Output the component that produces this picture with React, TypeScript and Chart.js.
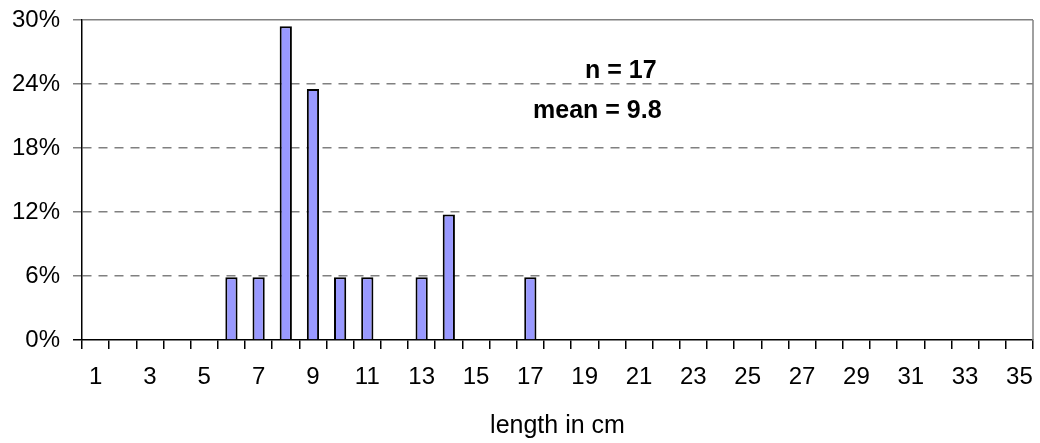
import React, { useEffect, useRef } from "react";
import { Chart, registerables } from "chart.js";

Chart.register(...registerables);

const lengthCategories: string[] = [
  "1", "2", "3", "4", "5", "6", "7", "8", "9", "10", "11", "12", "13", "14", "15", "16", "17", "18",
  "19", "20", "21", "22", "23", "24", "25", "26", "27", "28", "29", "30", "31", "32", "33", "34", "35",
];

// percent of fish per length class (n = 17)
const percentValues: number[] = [
  0, 0, 0, 0, 0, 5.88, 5.88, 29.41, 23.53, 5.88, 5.88, 0, 5.88, 11.76, 0, 0, 5.88, 0,
  0, 0, 0, 0, 0, 0, 0, 0, 0, 0, 0, 0, 0, 0, 0, 0, 0,
];

const yTickValues: number[] = [0, 6, 12, 18, 24, 30];
const annotationLines: string[] = ["n = 17", "mean = 9.8"];
const xAxisTitle = "length in cm";

const FONT = "'Liberation Sans', Arial, sans-serif";

export default function App() {
  const canvasRef = useRef<HTMLCanvasElement | null>(null);

  useEffect(() => {
    if (!canvasRef.current) return;

    const frame = {
      id: "frameAndNotes",
      afterDraw(chart: any) {
        const { ctx, chartArea } = chart;
        ctx.save();
        ctx.strokeStyle = "#808080";
        ctx.lineWidth = 1.5;
        ctx.beginPath();
        ctx.moveTo(chartArea.right, chartArea.top);
        ctx.lineTo(chartArea.right, chartArea.bottom);
        ctx.stroke();
        ctx.fillStyle = "#000";
        ctx.font = `bold 25px ${FONT}`;
        ctx.textAlign = "left";
        ctx.textBaseline = "alphabetic";
        ctx.fillText(annotationLines[0], 585, 78);
        ctx.fillText(annotationLines[1], 533, 118);
        ctx.restore();
      },
    };

    const chart = new Chart(canvasRef.current, {
      type: "bar",
      data: {
        labels: lengthCategories,
        datasets: [
          {
            data: percentValues,
            backgroundColor: "#9999FF",
            borderColor: "#000000",
            borderWidth: 2,
            barPercentage: 0.45,
            categoryPercentage: 1,
          },
        ],
      },
      options: {
        animation: false,
        responsive: true,
        maintainAspectRatio: false,
        layout: { padding: { top: 20, right: 7, left: 0, bottom: 0 } },
        plugins: {
          legend: { display: false },
          tooltip: { enabled: false },
        },
        scales: {
          x: {
            offset: true,
            grid: {
              offset: true,
              drawOnChartArea: false,
              drawTicks: true,
              tickLength: 9,
              color: "#000",
              tickColor: "#000",
              lineWidth: 1.5,
            },
            border: { color: "#000", width: 1.5 },
            ticks: {
              autoSkip: false,
              maxRotation: 0,
              minRotation: 0,
              color: "#000",
              padding: 14,
              font: { family: FONT, size: 24 },
              callback: (_v: any, idx: number) => (idx % 2 === 0 ? lengthCategories[idx] : ""),
            },
            title: {
              display: true,
              text: xAxisTitle,
              color: "#000",
              font: { family: FONT, size: 25 },
              padding: { top: 14, bottom: 2 },
            },
            afterFit: (s: any) => {
              s.height = 103;
              s.paddingLeft = 0;
              s.paddingRight = 0;
            },
          },
          y: {
            min: 0,
            max: 30,
            afterBuildTicks: (s: any) => {
              s.ticks = yTickValues.map((v) => ({ value: v }));
            },
            grid: {
              color: (c: any) => (c.tick && c.tick.value === 0 ? "rgba(0,0,0,0)" : "#808080"),
              tickColor: (c: any) => (c.tick && c.tick.value === 0 ? "#000" : "#808080"),
              lineWidth: 1.5,
              tickLength: 9,
            },
            border: {
              color: "#000",
              width: 1.5,
              dash: (c: any) => (c.tick && c.tick.value !== 30 ? [9, 7] : []),
            } as any,
            ticks: {
              color: "#000",
              padding: 13,
              font: { family: FONT, size: 24 },
              callback: (v: any) => `${v}%`,
            },
            afterFit: (s: any) => {
              s.width = 82;
              s.paddingTop = 0;
              s.paddingBottom = 0;
            },
          },
        },
      },
      plugins: [frame],
    });

    return () => chart.destroy();
  }, []);

  return (
    <div style={{ position: "fixed", left: 0, top: 0, width: 1040, height: 443, background: "#fff" }}>
      <canvas ref={canvasRef} />
    </div>
  );
}
